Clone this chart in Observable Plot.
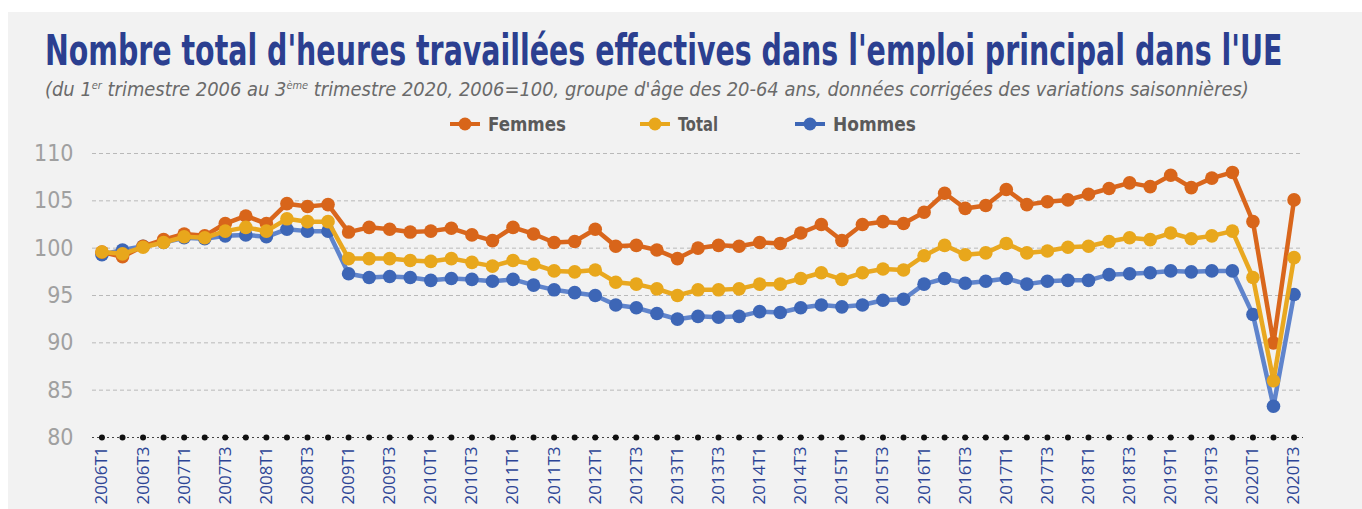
<!DOCTYPE html>
<html><head><meta charset="utf-8">
<script src="https://cdn.jsdelivr.net/npm/d3@7"></script>
<script src="https://cdn.jsdelivr.net/npm/@observablehq/plot@0.6"></script>
<style>
html,body{margin:0;padding:0;background:#fff;overflow:hidden;width:1362px;height:509px;}
#bg{position:absolute;left:8px;top:12px;width:1354px;height:497px;background:#f2f2f2;}
#header{position:absolute;left:0;top:0;overflow:visible;}
#chart{position:absolute;left:0;top:140px;}
</style></head><body>
<div id="bg"></div>
<svg id="header" width="1362" height="140"></svg>
<div id="chart"></div>
<script>
const quarters = ["2006T1","2006T2","2006T3","2006T4","2007T1","2007T2","2007T3","2007T4",
"2008T1","2008T2","2008T3","2008T4","2009T1","2009T2","2009T3","2009T4",
"2010T1","2010T2","2010T3","2010T4","2011T1","2011T2","2011T3","2011T4",
"2012T1","2012T2","2012T3","2012T4","2013T1","2013T2","2013T3","2013T4",
"2014T1","2014T2","2014T3","2014T4","2015T1","2015T2","2015T3","2015T4",
"2016T1","2016T2","2016T3","2016T4","2017T1","2017T2","2017T3","2017T4",
"2018T1","2018T2","2018T3","2018T4","2019T1","2019T2","2019T3","2019T4",
"2020T1","2020T2","2020T3"];
const femmes = [99.6,99.1,100.2,100.9,101.5,101.3,102.6,103.4,102.6,104.7,104.4,104.6,
101.7,102.2,102.0,101.7,101.8,102.1,101.4,100.8,102.2,101.5,100.6,100.7,
102.0,100.2,100.3,99.8,98.9,100.0,100.3,100.2,100.6,100.5,101.6,102.5,
100.8,102.5,102.8,102.6,103.8,105.8,104.2,104.5,106.2,104.6,104.9,105.1,
105.7,106.3,106.9,106.5,107.7,106.4,107.4,108.0,102.8,90.0,105.1];
const total = [99.6,99.4,100.1,100.6,101.2,101.1,101.8,102.2,101.8,103.1,102.8,102.8,
98.9,98.9,98.9,98.7,98.6,98.9,98.5,98.1,98.7,98.3,97.6,97.5,
97.7,96.4,96.2,95.7,95.0,95.6,95.6,95.7,96.2,96.2,96.8,97.4,
96.7,97.4,97.8,97.7,99.2,100.3,99.3,99.5,100.5,99.5,99.7,100.1,
100.2,100.7,101.1,100.9,101.6,101.0,101.3,101.8,96.9,86.0,99.0];
const hommes = [99.3,99.8,100.2,100.6,101.1,101.0,101.3,101.4,101.2,102.0,101.8,101.8,
97.3,96.9,97.0,96.9,96.6,96.8,96.7,96.5,96.7,96.1,95.6,95.3,
95.0,94.0,93.7,93.1,92.5,92.8,92.7,92.8,93.3,93.2,93.7,94.0,
93.8,94.0,94.5,94.6,96.2,96.8,96.3,96.5,96.8,96.2,96.5,96.6,
96.6,97.2,97.3,97.4,97.6,97.5,97.6,97.6,93.0,83.3,95.1];
const yTicks = [80,85,90,95,100,105,110];
const gridTicks = [85,90,95,100,105,110];
const baseline = 80;
const xTicks = quarters.filter((d,i)=>i%2===0);
const legendItems = [
  {label:"Femmes", color:"#d8651a"},
  {label:"Total", color:"#e8a71c"},
  {label:"Hommes", color:"#3d66b6"}
];
const titleText = "Nombre total d'heures travaillées effectives dans l'emploi principal dans l'UE";

// ---------- header ----------
const NARROW = "'Liberation Sans Narrow','DejaVu Sans Condensed','Open Sans',sans-serif";
const h = d3.select("#header");
function fit(sel, x, y, width){
  const w = sel.node().getComputedTextLength();
  sel.attr("transform", `translate(${x},${y}) scale(${width / w},1)`);
}
const title = h.append("text").attr("x",0).attr("y",0)
  .attr("font-family",NARROW).attr("font-weight","bold").attr("font-size",42)
  .attr("fill","#2b3f90").text(titleText);
fit(title, 45, 65, 1238);

const sub = h.append("text").attr("x",0).attr("y",0)
  .attr("font-family",NARROW).attr("font-style","italic").attr("font-size",20)
  .attr("fill","#6a6a6a");
sub.append("tspan").text("(du 1");
sub.append("tspan").attr("dy",-7).attr("font-size",11).text("er");
sub.append("tspan").attr("dy",7).text(" trimestre 2006 au 3");
sub.append("tspan").attr("dy",-7).attr("font-size",11).text("ème");
sub.append("tspan").attr("dy",7).text(" trimestre 2020, 2006=100, groupe d'âge des 20-64 ans, données corrigées des variations saisonnières)");
fit(sub, 45, 96, 1205);

const legX = [450, 640, 795];
const legW = [78, 40, 83];
legendItems.forEach((it,i)=>{
  const x0 = legX[i];
  h.append("line").attr("x1",x0).attr("x2",x0+30).attr("y1",124).attr("y2",124)
    .attr("stroke",it.color).attr("stroke-width",4);
  h.append("circle").attr("cx",x0+15).attr("cy",124).attr("r",6.5).attr("fill",it.color);
  const t = h.append("text").attr("x",0).attr("y",0)
    .attr("font-family",NARROW).attr("font-weight","bold").attr("font-size",20)
    .attr("fill","#5a5a5a").text(it.label);
  fit(t, x0+38, 131, legW[i]);
});

// ---------- chart ----------
const series = [
  {values:hommes, line:"#5f84cc", dot:"#3d66b6"},
  {values:femmes, line:"#d9661c", dot:"#d8651a"},
  {values:total,  line:"#e9a820", dot:"#e8a71c"}
];
const chart = Plot.plot({
  width:1362, height:369,
  marginTop:13, marginBottom:72, marginLeft:92, marginRight:59,
  style:{background:"transparent", fontFamily:NARROW},
  x:{type:"point", domain:quarters, padding:0.46},
  y:{domain:[80,110]},
  marks:[
    Plot.ruleY(gridTicks,{stroke:"#b9b9b9", strokeWidth:1, strokeDasharray:"4,3"}),
    Plot.ruleY([baseline],{stroke:"#444", strokeWidth:1, strokeDasharray:"2,3"}),
    Plot.dot(quarters,{x:d=>d, y:()=>baseline, r:3, fill:"#111"}),
    ...series.flatMap(s=>[
      Plot.line(quarters,{x:d=>d, y:(d,i)=>s.values[i], stroke:s.line, strokeWidth:4.5}),
      Plot.dot(quarters,{x:d=>d, y:(d,i)=>s.values[i], r:6.8, fill:s.dot})
    ]),
    Plot.axisY({ticks:yTicks, tickSize:0, tickPadding:19, fontSize:23, color:"#a0a0a0", label:null, fontFamily:NARROW}),
    Plot.axisX({ticks:xTicks, tickSize:0, tickPadding:9, tickRotate:-90, fontSize:17, color:"#2d4596", label:null, fontFamily:"'Open Sans',sans-serif"})
  ]
});
document.getElementById("chart").appendChild(chart);
</script>
</body></html>
